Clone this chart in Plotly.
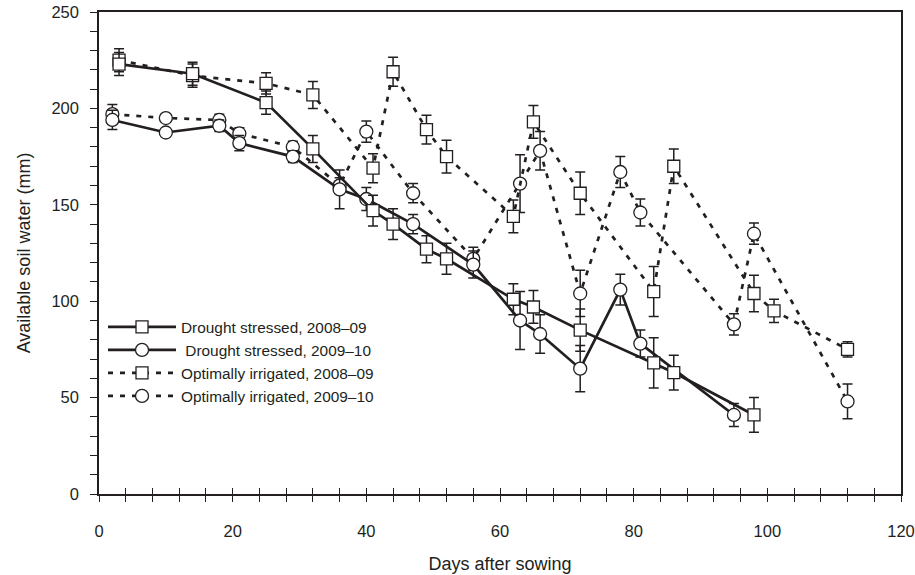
import plotly.graph_objects as go

# ---------------- data ----------------
ds08_days = [3, 14, 25, 32, 41, 44, 49, 52, 62, 65, 72, 83, 86, 98]
ds08_vals = [223, 218, 203, 179, 147, 140, 127, 122, 101, 97, 85, 68, 63, 41]
ds08_err = [6, 6, 6, 7, 8, 8, 7, 8, 8, 8.5, 11, 13, 9, 9]

ds09_days = [2, 10, 18, 21, 29, 36, 40, 47, 56, 63, 66, 72, 78, 81, 95]
ds09_vals = [194, 187.5, 191, 182, 175, 158, 153, 140, 119, 90, 83, 65, 106, 78, 41]
ds09_err = [5, 2, 3, 4, 3, 10, 6, 5, 7, 15, 10, 12, 8, 7, 6]

oi08_days = [3, 14, 25, 32, 41, 44, 49, 52, 62, 65, 72, 83, 86, 98, 101, 112]
oi08_vals = [225, 217, 213, 207, 169, 219, 189, 175, 144, 193, 156, 105, 170, 104, 95, 75]
oi08_err = [6, 6, 5.5, 7, 7.5, 7.5, 7.5, 8.5, 8.5, 8.5, 11, 13, 9, 9.5, 6, 4]

oi09_days = [2, 10, 18, 21, 29, 36, 40, 47, 56, 63, 66, 72, 78, 81, 95, 98, 112]
oi09_vals = [197, 195, 194, 187, 180, 160, 188, 156, 122, 161, 178, 104, 167, 146, 88, 135, 48]
oi09_err = [5, 2, 3, 3, 3, 4, 5.5, 5, 6, 15, 10, 12, 8, 7, 5.5, 5.5, 9]

series_names = [
    "Drought stressed, 2008\u201309",
    " Drought stressed, 2009\u201310",
    "Optimally irrigated, 2008\u201309",
    "Optimally irrigated, 2009\u201310",
]

x_label = "Days after sowing"
y_label = "Available soil water (mm)"

# ---------------- styling ----------------
INK = "#231f20"
FONT = "Liberation Sans, Arial, Helvetica, sans-serif"
DASH = "5px,7px"

series = [
    # (days, vals, err, name, symbol, dash, rank)
    (oi09_days, oi09_vals, oi09_err, series_names[3], "circle", DASH, 4),
    (oi08_days, oi08_vals, oi08_err, series_names[2], "square", DASH, 3),
    (ds09_days, ds09_vals, ds09_err, series_names[1], "circle", "solid", 2),
    (ds08_days, ds08_vals, ds08_err, series_names[0], "square", "solid", 1),
]

fig = go.Figure()
for days, vals, err, name, sym, dash, rank in series:
    fig.add_trace(go.Scatter(
        x=days, y=vals, name=name, mode="lines+markers",
        legendrank=rank, legendgroup=name,
        line=dict(color=INK, width=2.7, dash=dash),
        marker=dict(symbol=sym, size=13 if sym == "circle" else 12,
                    color="white", line=dict(color=INK, width=1.3)),
        error_y=dict(type="data", array=err, visible=True,
                     color=INK, thickness=1.5, width=5),
    ))

# invisible trace on overlay axis to carry the inward half of x ticks
fig.add_trace(go.Scatter(x=[0, 120], y=[0, 0], xaxis="x2", mode="markers",
                         marker=dict(opacity=0), showlegend=False,
                         hoverinfo="skip"))

fig.update_layout(
    width=915, height=575,
    margin=dict(l=99, r=14, t=12, b=81),
    paper_bgcolor="white", plot_bgcolor="white",
    font=dict(family=FONT, color=INK, size=15.5),
    showlegend=True,
    legend=dict(x=0.005, y=0.381, xanchor="left", yanchor="top",
                bgcolor="rgba(0,0,0,0)", font=dict(size=15.4, color=INK),
                itemwidth=68, tracegroupgap=0, traceorder="grouped"),
    xaxis=dict(range=[0, 120], dtick=20, tick0=0, automargin=False,
               showgrid=False, zeroline=False,
               showline=True, linecolor=INK, linewidth=1.5, mirror=True,
               ticks="outside", ticklen=6, tickwidth=1.2, tickcolor=INK,
               minor=dict(dtick=4, ticks="outside", ticklen=6,
                          tickwidth=1.2, tickcolor=INK, showgrid=False),
               ticklabelstandoff=15,
               tickfont=dict(size=16.5, color=INK),
               title=dict(text=x_label, font=dict(size=18, color=INK),
                          standoff=19)),
    xaxis2=dict(range=[0, 120], overlaying="x", anchor="y", side="bottom",
                automargin=False,
                showgrid=False, zeroline=False, showline=False,
                showticklabels=False, dtick=4, tick0=0,
                ticks="inside", ticklen=6, tickwidth=1.2, tickcolor=INK),
    yaxis=dict(range=[0, 250], dtick=50, tick0=0, automargin=False,
               showgrid=False, zeroline=False,
               showline=True, linecolor=INK, linewidth=1.5, mirror=True,
               ticks="outside", ticklen=7, tickwidth=1.2, tickcolor=INK,
               minor=dict(dtick=10, ticks="outside", ticklen=7,
                          tickwidth=1.2, tickcolor=INK, showgrid=False),
               ticklabelstandoff=8,
               tickfont=dict(size=16.5, color=INK),
               title=dict(text=y_label, font=dict(size=18, color=INK),
                          standoff=16)),
)

fig.write_html("out.html")
